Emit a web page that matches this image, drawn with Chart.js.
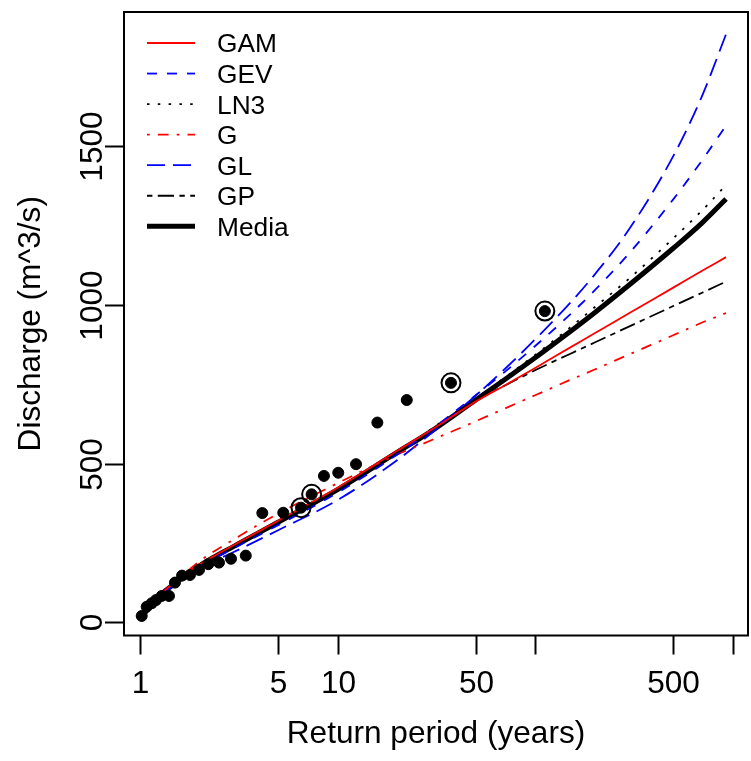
<!DOCTYPE html>
<html>
<head>
<meta charset="utf-8">
<script src="https://cdn.jsdelivr.net/npm/chart.js@4/dist/chart.umd.min.js"></script>
<style>
  html, body { margin: 0; padding: 0; background: #fff; }
  #wrap { width: 751px; height: 761px; }
</style>
</head>
<body>
<div id="wrap"><canvas id="freqChart" width="751" height="761"></canvas></div>
<script>
// return periods (years) where the fitted curves are evaluated
const periods = [1.01, 1.2, 1.5, 2, 3, 5, 10, 20, 30, 50, 70, 100, 150, 200, 300, 500, 700, 925];

// fitted discharge (m^3/s) per distribution
const gam   = [14, 74, 126, 182, 244, 320, 424, 540, 607, 695, 746, 801, 865, 910, 974, 1054, 1107, 1150];
const gev   = [12, 71, 120, 175, 234, 306, 408, 528, 608, 715, 788, 870, 969, 1045, 1163, 1332, 1455, 1564];
const ln3   = [13, 72, 121, 177, 238, 312, 415, 533, 610, 705, 770, 842, 928, 992, 1083, 1209, 1297, 1377];
const gumb  = [5, 74, 126, 192, 262, 342, 438, 528, 574, 633, 673, 715, 763, 796, 844, 904, 944, 974];
const glo   = [12, 70, 118, 170, 222, 290, 385, 510, 597, 714, 797, 891, 1005, 1095, 1239, 1468, 1658, 1852];
const gpa   = [14, 73, 122, 178, 240, 316, 420, 537, 605, 700, 745, 794, 845, 881, 932, 996, 1038, 1073];
const media = [13, 72, 122, 178, 240, 315, 418, 535, 603, 700, 764, 833, 915, 975, 1063, 1178, 1258, 1333];

// observed annual maxima (plotting position, discharge)
const obsT = [1.02, 1.081, 1.146, 1.205, 1.288, 1.402, 1.503, 1.632, 1.79, 1.989, 2.216, 2.51,
              2.888, 3.43, 4.16, 5.31, 6.53, 7.39, 8.53, 10.08, 12.4, 15.9, 22.4, 37.5, 112];
const obsQ = [20, 49, 60, 70, 83, 83, 125, 147, 149, 165, 183, 188,
              200, 210, 344, 345, 361, 403, 461, 471, 498, 629, 700, 754, 980];

// highlighted events
const markT = [6.53, 7.39, 37.5, 112];
const markQ = [361, 403, 754, 980];

// axis ticks
const xTicks = [1, 5, 10, 50, 100, 500, 1000];
const xTickLabels = ['1', '5', '10', '50', '', '500', ''];
const yTicks = [0, 500, 1000, 1500];

const X_MIN = 0.8298, X_MAX = 1195;
const Y_MIN = -41.6, Y_MAX = 1922;

const FONT = '"Liberation Sans", Arial, Helvetica, sans-serif';
const AXIS_PX = 31.6;
const LEGEND_PX = 26.3;

const pts = (xs, ys) => xs.map((v, i) => ({ x: v, y: ys[i] }));

function curve(label, values, color, width, dash) {
  return {
    label,
    data: pts(periods, values),
    borderColor: color,
    borderWidth: width,
    borderDash: dash,
    borderCapStyle: 'butt',
    pointRadius: 0,
    fill: false,
    cubicInterpolationMode: 'monotone',
    inLegend: true
  };
}

const datasets = [
  {
    label: 'obs',
    data: pts(obsT, obsQ),
    showLine: false,
    pointRadius: 5.5,
    pointBorderWidth: 1,
    pointBackgroundColor: '#000',
    pointBorderColor: '#000'
  },
  {
    label: 'marked',
    data: pts(markT, markQ),
    showLine: false,
    pointRadius: 9.5,
    pointBorderWidth: 2,
    pointBackgroundColor: 'rgba(0,0,0,0)',
    pointBorderColor: '#000'
  },
  curve('GAM', gam, '#ff0000', 1.8, []),
  curve('GEV', gev, '#0000ff', 1.8, [10, 10]),
  curve('LN3', ln3, '#000000', 1.8, [2.5, 8.3]),
  curve('G', gumb, '#ff0000', 1.8, [2.7, 8.1, 10.8, 8.1]),
  curve('GL', glo, '#0000ff', 1.8, [18, 8]),
  curve('GP', gpa, '#000000', 1.8, [5.4, 5.4, 16.2, 5.4]),
  curve('Media', media, '#000000', 5, [])
];

// R-style box, axes, titles and legend
const rAxes = {
  id: 'rAxes',
  afterDraw(chart) {
    const { ctx, chartArea: a, scales: { x, y } } = chart;
    ctx.save();
    ctx.strokeStyle = '#000';
    ctx.fillStyle = '#000';
    ctx.lineWidth = 2;
    ctx.setLineDash([]);
    ctx.strokeRect(a.left, a.top, a.right - a.left, a.bottom - a.top);

    ctx.font = AXIS_PX + 'px ' + FONT;
    ctx.textAlign = 'center';
    ctx.textBaseline = 'alphabetic';

    xTicks.forEach((v, i) => {
      const px = Math.round(x.getPixelForValue(v)) + 0.5;
      ctx.beginPath();
      ctx.moveTo(px, a.bottom);
      ctx.lineTo(px, a.bottom + 19);
      ctx.stroke();
      if (xTickLabels[i]) ctx.fillText(xTickLabels[i], px, 693);
    });

    yTicks.forEach(v => {
      const py = Math.round(y.getPixelForValue(v)) + 0.5;
      ctx.beginPath();
      ctx.moveTo(a.left, py);
      ctx.lineTo(a.left - 19, py);
      ctx.stroke();
      ctx.save();
      ctx.translate(101.5, py);
      ctx.rotate(-Math.PI / 2);
      ctx.fillText(String(v), 0, 0);
      ctx.restore();
    });

    const midX = (a.left + a.right) / 2;
    const midY = (a.top + a.bottom) / 2;
    ctx.fillText('Return period (years)', midX, 743);
    ctx.save();
    ctx.translate(40, midY);
    ctx.rotate(-Math.PI / 2);
    ctx.fillText('Discharge (m^3/s)', 0, 0);
    ctx.restore();

    // legend
    ctx.font = LEGEND_PX + 'px ' + FONT;
    ctx.textAlign = 'left';
    const items = chart.data.datasets.filter(d => d.inLegend);
    items.forEach((d, i) => {
      const ly = 43 + i * 30.55;
      ctx.strokeStyle = d.borderColor;
      ctx.lineWidth = d.borderWidth;
      ctx.lineCap = 'butt';
      ctx.setLineDash(d.borderDash);
      ctx.beginPath();
      ctx.moveTo(147, ly);
      ctx.lineTo(195, ly);
      ctx.stroke();
      ctx.setLineDash([]);
      ctx.fillText(d.label, 217, ly + LEGEND_PX * 0.358);
    });
    ctx.restore();
  }
};

const ctx = document.getElementById('freqChart').getContext('2d');
new Chart(ctx, {
  type: 'line',
  data: { datasets },
  options: {
    responsive: false,
    animation: false,
    devicePixelRatio: 1,
    layout: { autoPadding: false, padding: { left: 124, top: 12, right: 3, bottom: 125.5 } },
    scales: {
      x: { type: 'logarithmic', min: X_MIN, max: X_MAX, display: false },
      y: { type: 'linear', min: Y_MIN, max: Y_MAX, display: false }
    },
    plugins: {
      legend: { display: false },
      tooltip: { enabled: false }
    }
  },
  plugins: [rAxes]
});
</script>
</body>
</html>
